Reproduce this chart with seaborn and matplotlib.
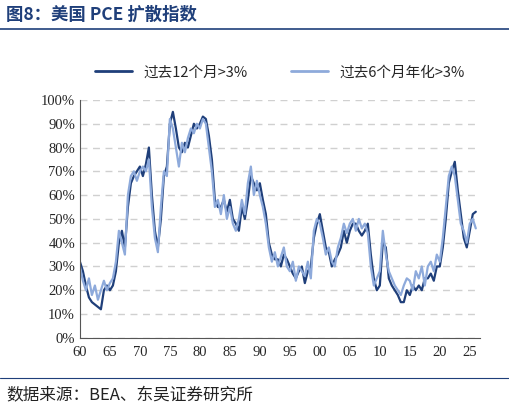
import numpy as np
import pandas as pd
import matplotlib
matplotlib.use("Agg")
import matplotlib.pyplot as plt
import seaborn as sns

# semi-annual readings, 1960.0 .. 2026.0
years = [1960 + 0.5 * i for i in range(133)]
s12 = [32, 28, 22, 17, 15, 14, 13, 12, 20, 22, 20, 22, 28, 40, 45, 38, 55, 65, 68, 70,
       72, 68, 73, 80, 60, 45, 38, 50, 68, 72, 90, 95, 88, 80, 78, 82, 80, 85, 90, 88,
       90, 93, 92, 85, 75, 58, 55, 55, 58, 53, 58, 50, 48, 45, 55, 50, 58, 68, 65, 62,
       65, 58, 52, 40, 35, 33, 33, 30, 35, 33, 30, 27, 25, 28, 30, 23, 28, 30, 42, 48,
       52, 45, 38, 36, 30, 33, 35, 38, 45, 40, 45, 48, 48, 45, 43, 45, 48, 35, 25, 20,
       22, 40, 38, 25, 22, 20, 18, 15, 15, 20, 18, 22, 20, 22, 20, 25, 25, 27, 24, 30,
       30, 38, 50, 65, 70, 74, 62, 52, 42, 38, 45, 52, 53]
s6 = [30, 24, 20, 25, 18, 22, 16, 20, 24, 20, 23, 25, 32, 45, 40, 35, 60, 68, 70, 66,
      70, 72, 70, 75, 55, 42, 36, 55, 70, 68, 92, 88, 80, 72, 82, 78, 84, 88, 86, 90,
      88, 92, 90, 80, 70, 55, 58, 52, 60, 50, 55, 48, 45, 50, 58, 52, 65, 72, 60, 66,
      60, 55, 48, 38, 32, 36, 30, 34, 38, 30, 28, 32, 24, 30, 28, 26, 32, 25, 45, 50,
      48, 42, 35, 38, 32, 30, 38, 42, 48, 44, 48, 50, 45, 50, 46, 48, 44, 30, 22, 25,
      28, 45, 35, 28, 25, 22, 20, 18, 22, 25, 24, 20, 28, 25, 30, 22, 30, 32, 28, 35,
      32, 42, 55, 68, 72, 68, 58, 48, 45, 40, 48, 50, 46]
labels = ["过去12个月>3%", "过去6个月年化>3%"]
xticks = list(range(1960, 2030, 5))
xticklabels = [f"{y % 100:02d}" for y in xticks]

df = pd.concat([
    pd.DataFrame({"year": years, "value": s12, "series": labels[0]}),
    pd.DataFrame({"year": years, "value": s6, "series": labels[1]}),
])

sns.set_style("white")
plt.rcParams["font.family"] = ["Noto Sans CJK SC", "DejaVu Sans"]

fig = plt.figure(figsize=(5.09, 4.13), dpi=100)
ax = fig.add_axes([0.157, 0.182, 0.786, 0.576])
sns.lineplot(data=df, x="year", y="value", hue="series", ax=ax,
             palette={labels[0]: "#1f3f7a", labels[1]: "#8eaadb"}, linewidth=1.6)
ax.set_xlim(1960, 2026.7)
ax.set_ylim(0, 100)
ax.set_yticks(range(0, 101, 10))
ax.set_yticklabels([f"{v}%" for v in range(0, 101, 10)], fontsize=10.5,
                   family=["Liberation Serif"])
ax.set_xticks(xticks)
ax.set_xticklabels(xticklabels, fontsize=10.5, family=["Liberation Serif"])
ax.tick_params(axis="x", direction="in", length=4, color="#555555", pad=6)
ax.tick_params(axis="y", length=0)
ax.yaxis.grid(True, linestyle=(0, (5, 4)), color="#d0d0d0", linewidth=1)
for s in ["top", "right"]:
    ax.spines[s].set_visible(False)
ax.spines["left"].set_color("#555555")
ax.spines["bottom"].set_color("#555555")
ax.set_xlabel("")
ax.set_ylabel("")
leg = ax.legend(loc="upper center", bbox_to_anchor=(0.5, 1.2), ncol=2, frameon=False,
                fontsize=10.5, handlelength=2.5, columnspacing=3)
for line in leg.get_lines():
    line.set_linewidth(2)

fig.text(0.012, 0.965, "图8：美国 PCE 扩散指数", fontsize=12.5, fontweight="bold",
         color="#1f3f7a", va="center")
fig.add_artist(plt.Line2D([0, 1], [0.93, 0.93], color="#1f3f7a", linewidth=1.2))
fig.add_artist(plt.Line2D([0, 1], [0.085, 0.085], color="#1f3f7a", linewidth=0.8))
fig.text(0.012, 0.042, "数据来源：BEA、东吴证券研究所", fontsize=12, color="#222222",
         va="center")
fig.savefig("out.png", dpi=100)
